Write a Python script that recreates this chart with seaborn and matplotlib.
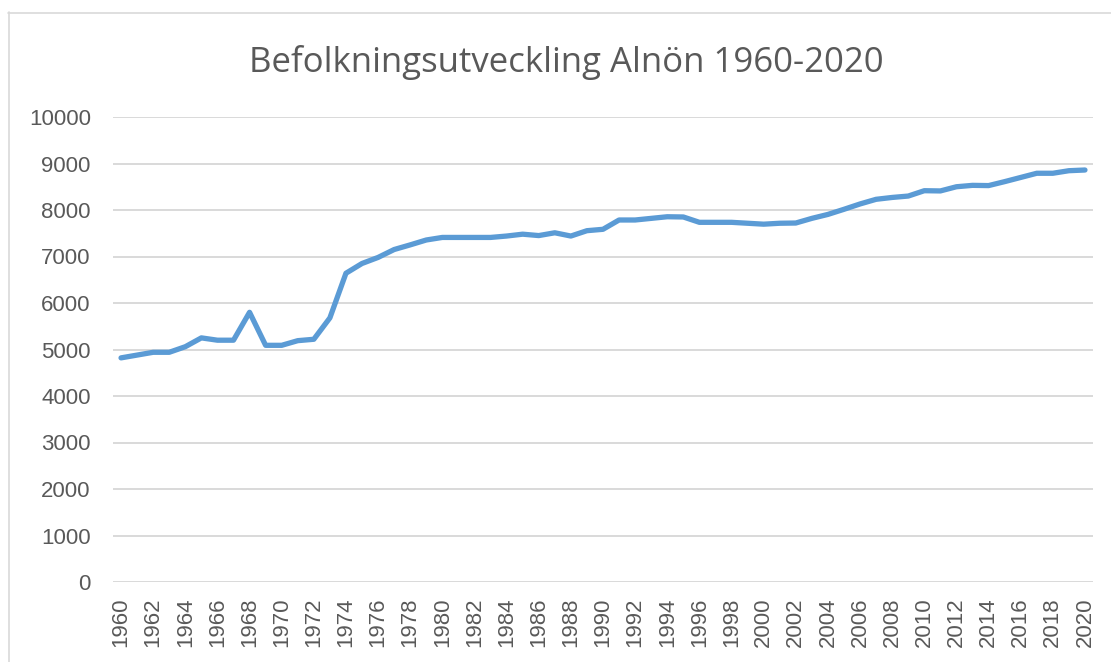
import matplotlib
matplotlib.use("Agg")
import matplotlib.pyplot as plt
import seaborn as sns
import pandas as pd
from matplotlib.lines import Line2D

years = list(range(1960, 2021))
population = [
    4820, 4880, 4940, 4940, 5060, 5250, 5200, 5200, 5800, 5090,
    5090, 5190, 5220, 5680, 6640, 6850, 6980, 7150, 7250, 7355,
    7410, 7410, 7410, 7410, 7440, 7480, 7450, 7510, 7440, 7555,
    7585, 7785, 7785, 7820, 7855, 7850, 7735, 7735, 7735, 7715,
    7695, 7715, 7720, 7820, 7905, 8015, 8130, 8230, 8270, 8300,
    8415, 8410, 8500, 8530, 8525, 8610, 8700, 8790, 8790, 8845,
    8860,
]
title = "Befolkningsutveckling Alnön 1960-2020"
yticks = list(range(0, 10001, 1000))
xticks = list(range(1960, 2021, 2))

df = pd.DataFrame({"year": years, "population": population})

sns.set_theme(style="white")
plt.rcParams["font.family"] = ["Liberation Sans", "DejaVu Sans"]

W, H = 1111, 662
fig = plt.figure(figsize=(W / 100, H / 100), dpi=100)
ax = fig.add_axes([113 / W, 1 - 582 / H, (1093 - 113) / W, (582 - 117) / H])

txt = "#595959"
grid = "#D9D9D9"

sns.lineplot(data=df, x="year", y="population", ax=ax, color="#5B9BD5",
             linewidth=3.8, solid_joinstyle="round", solid_capstyle="round")

ax.set_xlim(1959.5, 2020.5)
ax.set_ylim(0, 10000)
ax.set_yticks(yticks)
ax.set_yticklabels([str(v) for v in yticks])
ax.set_xticks(xticks)
ax.set_xticklabels([str(v) for v in xticks], rotation=90)
ax.yaxis.grid(True, color=grid, linewidth=1.4)
ax.set_axisbelow(True)
for s in ax.spines.values():
    s.set_visible(False)
ax.tick_params(axis="y", length=0, pad=16, labelsize=16, labelcolor=txt)
ax.tick_params(axis="x", length=0, pad=11, labelsize=16, labelcolor=txt)
ax.set_xlabel("")
ax.set_ylabel("")

fig.text(566 / W, 1 - 62 / H, title, ha="center", va="center",
         fontsize=25, color=txt, family=["Open Sans", "DejaVu Sans"])

fig.add_artist(Line2D([8.5 / W, 8.5 / W], [0, 1 - 12 / H], transform=fig.transFigure,
                      color=grid, linewidth=1.2))
fig.add_artist(Line2D([8 / W, 1], [1 - 12.5 / H, 1 - 12.5 / H], transform=fig.transFigure,
                      color=grid, linewidth=1.2))

fig.savefig("out.png", dpi=100, facecolor="white")
